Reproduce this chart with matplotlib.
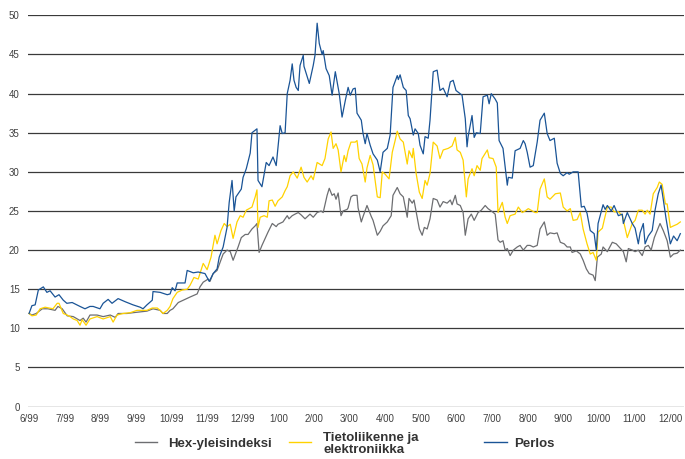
import matplotlib
matplotlib.use("Agg")
import matplotlib.pyplot as plt
from matplotlib.lines import Line2D

# x positions: months elapsed since June 1999 (0 = 6/99, 18 = 12/00)
month_labels = ["6/99", "7/99", "8/99", "9/99", "10/99", "11/99", "12/99",
                "1/00", "2/00", "3/00", "4/00", "5/00", "6/00", "7/00",
                "8/00", "9/00", "10/00", "11/00", "12/00"]
y_ticks = [0, 5, 10, 15, 20, 25, 30, 35, 40, 45, 50]

series_names = ["Hex-yleisindeksi", "Tietoliikenne ja\nelektroniikka", "Perlos"]
series_colors = ["#6d6e71", "#ffd200", "#1a5496"]

perlos_x = [0.00, 0.08, 0.17, 0.26, 0.40, 0.50, 0.59, 0.73, 0.84, 0.96, 1.06, 1.21, 1.34, 1.43, 1.57,
            1.71, 1.80, 1.99, 2.08, 2.22, 2.33, 2.50, 2.70, 2.92, 3.12, 3.20, 3.31, 3.46, 3.48, 3.68,
            3.88, 3.96, 4.02, 4.10, 4.16, 4.38, 4.44, 4.61, 4.75, 4.94, 5.06, 5.17, 5.28, 5.34, 5.45,
            5.56, 5.62, 5.70, 5.76, 5.81, 5.96, 6.01, 6.10, 6.21, 6.26, 6.40, 6.43, 6.54, 6.66, 6.74,
            6.85, 6.94, 7.05, 7.11, 7.19, 7.25, 7.33, 7.39, 7.44, 7.50, 7.56, 7.61, 7.70, 7.72, 7.87,
            7.98, 8.03, 8.09, 8.15, 8.23, 8.26, 8.34, 8.43, 8.51, 8.60, 8.65, 8.71, 8.79, 8.88, 8.96,
            9.02, 9.10, 9.16, 9.21, 9.33, 9.38, 9.44, 9.49, 9.58, 9.66, 9.78, 9.86, 9.94, 10.06, 10.14,
            10.22, 10.34, 10.37, 10.42, 10.51, 10.59, 10.65, 10.70, 10.79, 10.84, 10.93, 10.98, 11.07,
            11.12, 11.21, 11.26, 11.35, 11.46, 11.54, 11.63, 11.74, 11.83, 11.91, 11.99, 12.16, 12.25,
            12.30, 12.33, 12.44, 12.50, 12.56, 12.67, 12.75, 12.87, 12.92, 12.98, 13.09, 13.15, 13.20,
            13.31, 13.43, 13.46, 13.57, 13.65, 13.79, 13.88, 13.93, 13.99, 14.07, 14.16, 14.27, 14.35,
            14.47, 14.55, 14.63, 14.75, 14.83, 14.92, 15.00, 15.11, 15.17, 15.28, 15.42, 15.51, 15.59,
            15.67, 15.76, 15.87, 15.93, 15.98, 16.12, 16.18, 16.24, 16.35, 16.43, 16.55, 16.66, 16.69,
            16.80, 16.94, 17.02, 17.11, 17.16, 17.25, 17.30, 17.39, 17.50, 17.58, 17.67, 17.75, 17.81,
            17.89, 18.01, 18.10, 18.15, 18.20, 18.29]
perlos_y = [11.9, 12.9, 13.0, 14.9, 15.3, 14.6, 14.8, 14.0, 14.3, 13.6, 13.2, 13.3, 13.0, 12.8, 12.5,
            12.8, 12.8, 12.5, 13.2, 13.7, 13.2, 13.8, 13.4, 13.0, 12.7, 12.5, 13.0, 13.6, 14.7, 14.6,
            14.3, 14.4, 15.2, 14.8, 15.8, 15.8, 17.4, 17.1, 17.2, 17.0, 16.0, 17.0, 17.6, 19.1, 20.4,
            22.9, 26.1, 28.9, 25.0, 26.8, 27.8, 29.3, 30.4, 32.4, 35.0, 35.5, 28.9, 28.1, 31.2, 30.8,
            31.9, 30.8, 35.9, 34.9, 35.0, 40.0, 41.7, 43.8, 41.7, 40.8, 40.4, 43.6, 44.9, 43.5, 41.3,
            43.6, 44.9, 49.0, 46.4, 45.0, 45.5, 43.2, 42.3, 39.8, 42.8, 41.5, 40.0, 37.0, 39.1, 40.8,
            39.8, 40.6, 40.7, 37.5, 36.6, 34.9, 33.6, 34.9, 33.4, 32.3, 31.5, 30.0, 32.5, 33.0, 34.7,
            40.8, 42.3, 41.8, 42.4, 40.8, 40.4, 37.2, 36.8, 34.7, 35.5, 34.9, 33.4, 32.3,
            34.5, 34.3, 36.6, 42.8, 43.0, 40.4, 40.7, 39.6, 41.5, 41.7, 40.4, 39.8, 36.8,
            33.2, 34.5, 37.2, 34.4, 35.0, 34.9, 39.6, 39.8, 38.7, 40.0, 39.3, 38.8, 34.0,
            33.0, 28.3, 29.3, 29.2, 32.7, 33.0, 34.0, 33.6, 32.5, 30.6, 30.8, 33.8, 36.6,
            37.5, 34.9, 34.0, 34.3, 31.1, 29.8, 29.5, 29.9, 29.7, 30.0, 30.0, 25.5, 25.6,
            24.7, 22.5, 22.1, 20.0, 23.4, 25.8, 25.2, 25.7, 25.0, 25.7, 24.4, 24.6, 23.4,
            24.8, 23.4, 22.8, 20.8, 22.2, 23.4, 20.8, 21.8, 22.5, 25.1, 27.2, 28.3, 26.5,
            24.0, 20.8, 21.8, 21.5, 21.2, 22.1]

tele_x = [0.00, 0.08, 0.20, 0.31, 0.45, 0.67, 0.79, 0.84, 0.96, 1.07, 1.15, 1.24, 1.35, 1.43, 1.49,
          1.60, 1.71, 1.91, 2.08, 2.28, 2.36, 2.47, 2.64, 2.84, 3.03, 3.31, 3.46, 3.60, 3.68, 3.76,
          3.88, 3.96, 4.04, 4.16, 4.30, 4.44, 4.52, 4.63, 4.75, 4.89, 5.00, 5.11, 5.22, 5.28, 5.39,
          5.48, 5.56, 5.65, 5.73, 5.84, 5.93, 6.01, 6.10, 6.26, 6.35, 6.40, 6.43, 6.49, 6.60, 6.69,
          6.74, 6.83, 6.91, 6.99, 7.11, 7.19, 7.25, 7.33, 7.42, 7.53, 7.64, 7.72, 7.81, 7.92, 7.98,
          8.09, 8.23, 8.31, 8.40, 8.48, 8.54, 8.62, 8.68, 8.76, 8.85, 8.90, 8.96, 9.04, 9.16, 9.21,
          9.27, 9.35, 9.44, 9.49, 9.58, 9.66, 9.78, 9.86, 9.92, 10.00, 10.11, 10.20, 10.28, 10.34,
          10.42, 10.51, 10.62, 10.67, 10.76, 10.79, 10.87, 10.96, 11.04, 11.12, 11.18, 11.26, 11.35,
          11.46, 11.54, 11.63, 11.77, 11.88, 11.97, 12.02, 12.11, 12.19, 12.28, 12.33, 12.44, 12.50,
          12.58, 12.67, 12.72, 12.87, 12.92, 13.03, 13.12, 13.17, 13.29, 13.37, 13.43, 13.51, 13.65,
          13.74, 13.85, 13.93, 14.02, 14.21, 14.27, 14.35, 14.47, 14.55, 14.63, 14.78, 14.92, 15.00,
          15.11, 15.20, 15.28, 15.39, 15.48, 15.56, 15.67, 15.76, 15.84, 15.93, 15.98, 16.10, 16.15,
          16.24, 16.35, 16.43, 16.55, 16.66, 16.71, 16.80, 16.94, 17.02, 17.11, 17.22, 17.30, 17.36,
          17.44, 17.53, 17.64, 17.70, 17.78, 17.87, 17.92, 18.01, 18.10, 18.20, 18.29]
tele_y = [11.9, 11.6, 11.7, 12.5, 12.7, 12.5, 13.2, 13.2, 11.9, 11.7, 11.5, 11.2, 11.0, 10.4, 11.1,
          10.4, 11.2, 11.5, 11.2, 11.5, 10.8, 11.7, 11.9, 12.0, 12.3, 12.3, 12.6, 12.6, 12.3, 11.9,
          12.3, 12.8, 13.8, 14.6, 14.9, 15.0, 15.5, 16.5, 16.3, 18.3, 17.5, 19.1, 21.9, 20.8, 22.5,
          23.4, 23.0, 23.3, 21.5, 23.6, 24.4, 24.2, 25.1, 25.5, 26.8, 27.7, 22.9, 24.2, 24.4, 24.2,
          26.3, 26.4, 25.6, 26.3, 26.8, 27.6, 28.1, 29.5, 30.0, 29.2, 30.6, 29.3, 28.7, 29.5, 29.0,
          31.2, 30.8, 31.7, 34.2, 35.1, 33.0, 33.6, 32.8, 30.0, 32.1, 31.3, 32.7, 33.8, 33.8, 34.0,
          31.7, 31.0, 28.7, 30.5, 32.1, 30.9, 26.8, 26.7, 30.0, 29.7, 29.1, 32.5, 34.0, 35.2,
          34.2, 33.8, 31.0, 32.7, 31.8, 33.0, 29.8, 27.4, 26.6, 28.9, 28.3, 29.8, 33.8,
          33.3, 31.7, 32.8, 33.0, 33.3, 34.4, 32.8, 32.5, 31.5, 26.8, 29.1, 30.4, 29.5,
          30.8, 30.2, 31.7, 32.8, 31.8, 31.7, 30.6, 24.8, 26.1, 24.2, 23.4, 24.4, 24.6,
          25.5, 24.8, 25.0, 25.3, 24.8, 24.8, 27.8, 29.1, 26.8, 26.5, 27.2, 27.3, 25.5,
          25.0, 25.3, 23.8, 23.9, 24.8, 22.7, 20.8, 19.5, 19.7, 18.7, 22.3, 22.8, 23.8,
          25.5, 25.5, 24.9, 24.9, 24.4, 23.4, 21.6, 23.4, 23.8, 25.1, 25.1, 24.6, 25.1,
          24.6, 27.2, 28.0, 28.7, 28.4, 25.9, 25.9, 22.9, 23.1, 23.3, 23.6]

hex_x = [0.00, 0.08, 0.20, 0.37, 0.53, 0.73, 0.81, 0.93, 1.07, 1.24, 1.43, 1.52, 1.60, 1.71, 1.91,
         2.08, 2.28, 2.42, 2.50, 2.75, 2.92, 3.12, 3.31, 3.48, 3.68, 3.76, 3.88, 3.96, 4.04, 4.19,
         4.33, 4.52, 4.72, 4.80, 4.89, 5.03, 5.08, 5.17, 5.28, 5.37, 5.45, 5.56, 5.65, 5.73, 5.87,
         5.96, 6.07, 6.15, 6.26, 6.35, 6.40, 6.46, 6.54, 6.63, 6.71, 6.83, 6.94, 6.99, 7.13, 7.25,
         7.30, 7.39, 7.47, 7.56, 7.64, 7.75, 7.89, 7.98, 8.09, 8.20, 8.26, 8.37, 8.43, 8.51, 8.57,
         8.62, 8.68, 8.76, 8.82, 8.93, 8.96, 9.04, 9.10, 9.21, 9.24, 9.33, 9.38, 9.49, 9.61, 9.66,
         9.78, 9.86, 9.94, 10.06, 10.17, 10.22, 10.34, 10.42, 10.51, 10.62, 10.67, 10.76, 10.81,
         10.90, 10.96, 11.04, 11.10, 11.18, 11.26, 11.35, 11.46, 11.54, 11.63, 11.74, 11.83, 11.88,
         11.97, 12.02, 12.11, 12.19, 12.25, 12.33, 12.42, 12.50, 12.61, 12.70, 12.81, 12.89, 13.01,
         13.09, 13.17, 13.23, 13.31, 13.37, 13.43, 13.51, 13.60, 13.71, 13.79, 13.88, 13.99, 14.07,
         14.16, 14.27, 14.35, 14.47, 14.55, 14.63, 14.75, 14.83, 14.92, 15.03, 15.11, 15.20, 15.25,
         15.37, 15.48, 15.56, 15.65, 15.73, 15.84, 15.90, 15.96, 16.07, 16.12, 16.24, 16.38, 16.49,
         16.57, 16.69, 16.77, 16.83, 16.94, 17.02, 17.11, 17.22, 17.30, 17.39, 17.47, 17.56, 17.64,
         17.72, 17.81, 17.92, 18.01, 18.10, 18.20, 18.29]
hex_y = [11.9, 11.7, 11.9, 12.5, 12.5, 12.3, 12.8, 12.5, 11.6, 11.5, 11.0, 11.3, 10.8, 11.7, 11.7,
         11.5, 11.7, 11.4, 11.9, 11.9, 12.0, 12.1, 12.2, 12.5, 12.3, 11.9, 11.9, 12.3, 12.5, 13.3,
         13.6, 14.0, 14.4, 15.3, 15.9, 16.3, 16.0, 17.0, 17.4, 18.5, 19.5, 20.0, 19.8, 18.7, 20.4,
         21.6, 22.0, 22.0, 22.7, 23.1, 23.4, 19.7, 20.6, 21.5, 22.3, 23.4, 23.0, 23.3, 23.6, 24.4,
         24.0, 24.4, 24.6, 24.8, 24.5, 24.0, 24.6, 24.2, 24.8, 25.0, 24.8, 27.0, 27.9, 27.0, 27.2,
         26.5, 27.3, 24.4, 25.0, 25.2, 25.4, 26.8, 27.0, 27.0, 25.4, 23.6, 24.3, 25.7, 24.3, 23.8,
         21.9, 22.4, 23.1, 23.6, 24.4, 27.0, 28.0, 27.2, 26.8, 24.2, 26.6, 26.0, 26.4,
         24.2, 22.7, 21.9, 22.9, 22.7, 24.0, 26.6, 26.4, 25.5, 26.2, 26.0, 26.4, 25.8,
         27.0, 25.9, 25.7, 24.8, 21.9, 24.0, 24.6, 23.8, 24.8, 25.1, 25.7, 25.3, 24.9,
         24.6, 21.3, 21.0, 21.2, 20.0, 20.2, 19.3, 20.0, 20.4, 20.6, 20.0, 20.6, 20.6,
         20.4, 20.6, 22.7, 23.6, 21.9, 22.2, 22.1, 22.2, 21.0, 20.8, 20.4, 20.4, 19.7,
         19.9, 19.5, 18.7, 17.6, 17.0, 16.8, 16.1, 19.1, 19.5, 20.4, 19.8, 21.0, 20.8,
         20.4, 19.8, 18.5, 20.2, 20.0, 19.8, 20.0, 19.3, 20.4, 20.6, 20.0, 21.6, 22.5,
         23.4, 22.5, 21.2, 19.1, 19.5, 19.6, 20.0]

plt.rcParams['font.family'] = ['Liberation Sans', 'DejaVu Sans']

fig = plt.figure(figsize=(6.85, 4.59), dpi=100)
ax = fig.add_axes([0.0409, 0.1142, 0.958, 0.8523])

for yv in y_ticks:
    ax.axhline(yv, color='#3a3a3a', lw=0.9, zorder=1)

data = [(hex_x, hex_y), (tele_x, tele_y), (perlos_x, perlos_y)]
for (xs, ys), c in zip(data, series_colors):
    ax.plot(xs, ys, color=c, lw=0.9, zorder=3)

ax.set_xlim(-0.03, 18.4)
ax.set_ylim(0, 50)
ax.set_xticks(range(len(month_labels)))
ax.set_xticklabels(month_labels)
ax.set_yticks(y_ticks)
ax.tick_params(axis='both', length=0, labelsize=7, colors='#404040')
ax.tick_params(axis='x', pad=5)
ax.tick_params(axis='y', pad=6)
for s in ax.spines.values():
    s.set_visible(False)

# legend drawn manually
W, H = 685.0, 459.0
legend_items = [(135, 157, 168), (289, 311, 323), (484, 507, 514)]
for (x0, x1, xt), name, c in zip(legend_items, series_names, series_colors):
    fig.add_artist(Line2D([x0 / W, x1 / W], [1 - 442 / H, 1 - 442 / H],
                          color=c, lw=1.0, transform=fig.transFigure))
    fig.text(xt / W, 1 - 444 / H, name, fontsize=9.5, fontweight='bold',
             color='#333333', va='center', ha='left', linespacing=0.95)

fig.savefig("out.png", dpi=100)
